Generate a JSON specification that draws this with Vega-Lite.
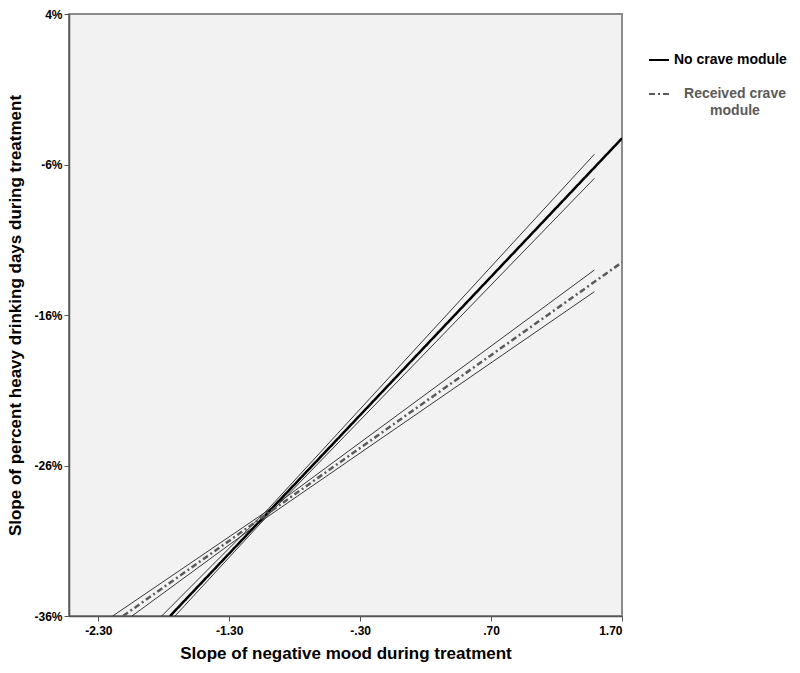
{
  "$schema": "https://vega.github.io/schema/vega-lite/v6.json",
  "autosize": {"type": "none"},
  "padding": {"left": 69, "top": 14, "right": 178, "bottom": 57},
  "width": 553,
  "height": 602,
  "config": {
    "font": "Liberation Sans",
    "view": {"fill": "#f2f2f2", "stroke": "#8c8c8c", "strokeWidth": 2},
    "axis": {
      "labelFont": "Liberation Sans",
      "labelFontWeight": "bold",
      "labelFontSize": 12,
      "labelColor": "#000000",
      "titleFont": "Liberation Sans",
      "titleFontWeight": "bold",
      "titleFontSize": 17,
      "titleColor": "#000000",
      "domainColor": "#555555",
      "domainWidth": 1.5,
      "tickColor": "#555555",
      "tickSize": 5,
      "grid": false
    }
  },
  "datasets": {
    "fit": [
      {"group": "No crave module", "x": -1.752, "y": -36},
      {"group": "No crave module", "x": 1.70, "y": -4.26},
      {"group": "Received crave module", "x": -2.111, "y": -36},
      {"group": "Received crave module", "x": 1.70, "y": -12.50}
    ],
    "ci": [
      {"group": "No crave module", "bound": "upper", "x": -1.816, "y": -36},
      {"group": "No crave module", "bound": "upper", "x": -1.0, "y": -28.87},
      {"group": "No crave module", "bound": "upper", "x": 1.489, "y": -5.32},
      {"group": "No crave module", "bound": "lower", "x": -1.714, "y": -36},
      {"group": "No crave module", "bound": "lower", "x": -1.0, "y": -29.27},
      {"group": "No crave module", "bound": "lower", "x": 1.489, "y": -6.92},
      {"group": "Received crave module", "bound": "upper", "x": -2.19, "y": -36},
      {"group": "Received crave module", "bound": "upper", "x": -1.0, "y": -28.96},
      {"group": "Received crave module", "bound": "upper", "x": 1.489, "y": -13.01},
      {"group": "Received crave module", "bound": "lower", "x": -2.043, "y": -36},
      {"group": "Received crave module", "bound": "lower", "x": -1.0, "y": -29.36},
      {"group": "Received crave module", "bound": "lower", "x": 1.489, "y": -14.45}
    ]
  },
  "encoding": {
    "x": {
      "field": "x",
      "type": "quantitative",
      "scale": {"domain": [-2.524, 1.70], "nice": false, "zero": false},
      "axis": {
        "title": "Slope of negative mood during treatment",
        "values": [-2.3, -1.3, -0.3, 0.7, 1.7],
        "labelExpr": "datum.value == -2.3 ? '-2.30' : datum.value == -1.3 ? '-1.30' : datum.value == -0.3 ? '-.30' : datum.value == 0.7 ? '.70' : '1.70'",
        "labelPadding": 4,
        "titlePadding": 9
      }
    },
    "y": {
      "field": "y",
      "type": "quantitative",
      "scale": {"domain": [-36, 4], "nice": false, "zero": false},
      "axis": {
        "title": "Slope of percent heavy drinking days during treatment",
        "values": [4, -6, -16, -26, -36],
        "labelExpr": "datum.value + '%'",
        "labelPadding": 2,
        "titlePadding": 9
      }
    }
  },
  "layer": [
    {
      "data": {"name": "ci"},
      "mark": {"type": "line", "strokeWidth": 0.9, "color": "#222222", "clip": true},
      "encoding": {
        "detail": [{"field": "group"}, {"field": "bound"}]
      }
    },
    {
      "data": {"name": "fit"},
      "mark": {"type": "line", "strokeWidth": 2.5, "clip": true},
      "encoding": {
        "color": {
          "field": "group",
          "type": "nominal",
          "scale": {"domain": ["No crave module", "Received crave module"], "range": ["#000000", "#5a5a5a"]},
          "legend": {
            "title": null,
            "orient": "none",
            "legendX": 579,
            "legendY": 35,
            "symbolType": "stroke",
            "symbolSize": 400,
            "symbolStrokeWidth": 2,
            "labelFont": "Liberation Sans",
            "labelFontWeight": "bold",
            "labelFontSize": 14,
            "labelOffset": 4,
            "rowPadding": 16,
            "labelExpr": "datum.label == 'Received crave module' ? ['Received crave', 'module'] : datum.label",
            "encode": {
              "labels": {"update": {
                "fill": {"signal": "datum.label == 'No crave module' ? '#000000' : '#5a5a5a'"},
                "align": {"signal": "datum.label == 'No crave module' ? 'left' : 'center'"},
                "dx": {"signal": "datum.label == 'No crave module' ? 0 : 61"},
                "lineHeight": {"value": 16.5}
              }},
              "symbols": {"update": {"strokeDash": {"signal": "datum.label == 'No crave module' ? [1, 0] : [5, 4]"}}}
            }
          }
        },
        "strokeDash": {
          "field": "group",
          "type": "nominal",
          "scale": {"domain": ["No crave module", "Received crave module"], "range": [[1, 0], [6, 3, 2, 3]]},
          "legend": null
        }
      }
    }
  ]
}
